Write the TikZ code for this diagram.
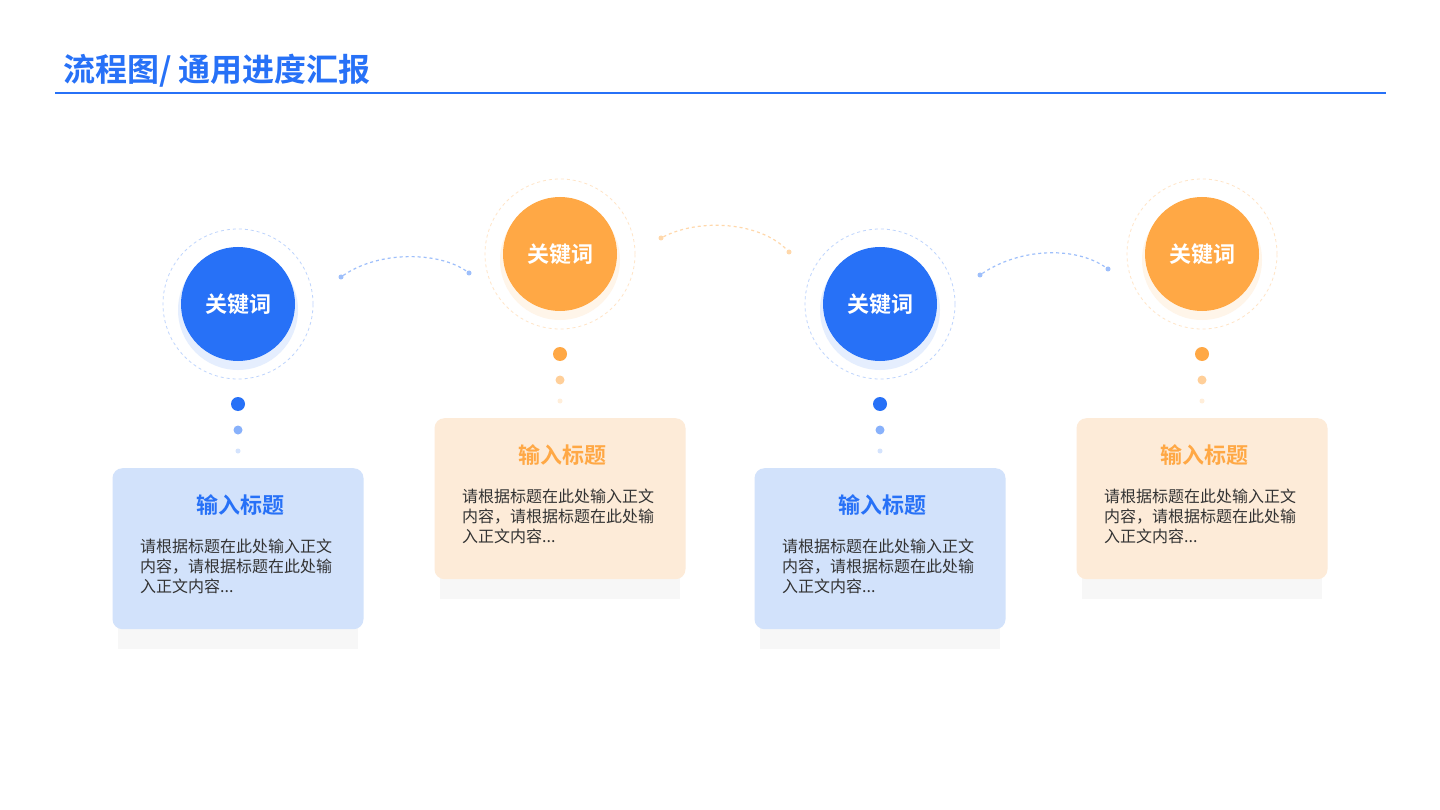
\documentclass[tikz,border=0pt]{standalone}
\usepackage{fontspec}
\setmainfont{Noto Sans CJK SC}
\newfontfamily\cjkb{Noto Sans CJK SC Bold}
\definecolor{mblue}{HTML}{2771F7}
\definecolor{morange}{HTML}{FFA845}
\definecolor{lblue}{HTML}{D2E2FB}
\definecolor{lorange}{HTML}{FDEBD8}
\definecolor{txt}{HTML}{333333}
\begin{document}
\begin{tikzpicture}[x=1pt,y=-1pt,
  kw/.style={circle,minimum size=114pt,inner sep=0pt,text=white,font=\cjkb\fontsize{22}{22}\selectfont},
  ring/.style={circle,minimum size=150pt,inner sep=0pt,dashed,line width=0.8pt},
  card/.style={rounded corners=10pt,minimum width=251pt,minimum height=161pt,inner sep=0pt},
  ttl/.style={font=\cjkb\fontsize{22}{22}\selectfont},
  body/.style={text=txt,align=left,anchor=north west,inner sep=0pt,font=\fontsize{16}{20}\selectfont},
  arc/.style={dashed,line width=1.2pt},
  dot/.style={circle,inner sep=0pt}]
\useasboundingbox (0,0) rectangle (1440,810);
\fill[white] (0,0) rectangle (1440,810);
\node[anchor=west,text=mblue,font=\cjkb\fontsize{32}{32}\selectfont,inner sep=0pt] (title) at (63,71) {流程图/ 通用进度汇报};
\draw[mblue,line width=1.5pt] (55,93) -- (1386,93);
\foreach \i/\x/\y/\c/\l in {1/238/304/mblue/lblue,2/560/254/morange/lorange,3/880/304/mblue/lblue,4/1202/254/morange/lorange}{
  \node[ring,draw=\c!30] (r\i) at (\x,\y) {};
  \fill[\c!12] (\x,\y+6) circle (60);
  \node[kw,fill=\c] (k\i) at (\x,\y) {关键词};
  \node[dot,fill=\c,minimum size=14pt] (d\i a) at (\x,\y+100) {};
  \node[dot,fill=\c!55,minimum size=9pt] (d\i b) at (\x,\y+126) {};
  \node[dot,fill=\c!20,minimum size=5pt] (d\i c) at (\x,\y+147) {};
  \fill[black!3] (\x-120,\y+185) rectangle (\x+120,\y+345);
  \node[card,fill=\l,anchor=north] (b\i) at (\x,\y+164) {};
  \node[ttl,text=\c] (t\i) at (\x+2,\y+201) {输入标题};
  \node[body] (p\i) at (\x-98,\y+235) {请根据标题在此处输入正文\\内容，请根据标题在此处输\\入正文内容...};
}
\node[dot,fill=mblue!45,minimum size=5pt] (a1) at (341,277) {};
\node[dot,fill=mblue!45,minimum size=5pt] (a2) at (469,273) {};
\draw[arc,mblue!45] (a1) .. controls (380,250) and (440,252) .. (a2);
\node[dot,fill=morange!45,minimum size=5pt] (a3) at (661,238) {};
\node[dot,fill=morange!45,minimum size=5pt] (a4) at (789,252) {};
\draw[arc,morange!45] (a3) .. controls (700,218) and (760,222) .. (a4);
\node[dot,fill=mblue!45,minimum size=5pt] (a5) at (980,275) {};
\node[dot,fill=mblue!45,minimum size=5pt] (a6) at (1108,269) {};
\draw[arc,mblue!45] (a5) .. controls (1020,248) and (1075,246) .. (a6);
\end{tikzpicture}
\end{document}
